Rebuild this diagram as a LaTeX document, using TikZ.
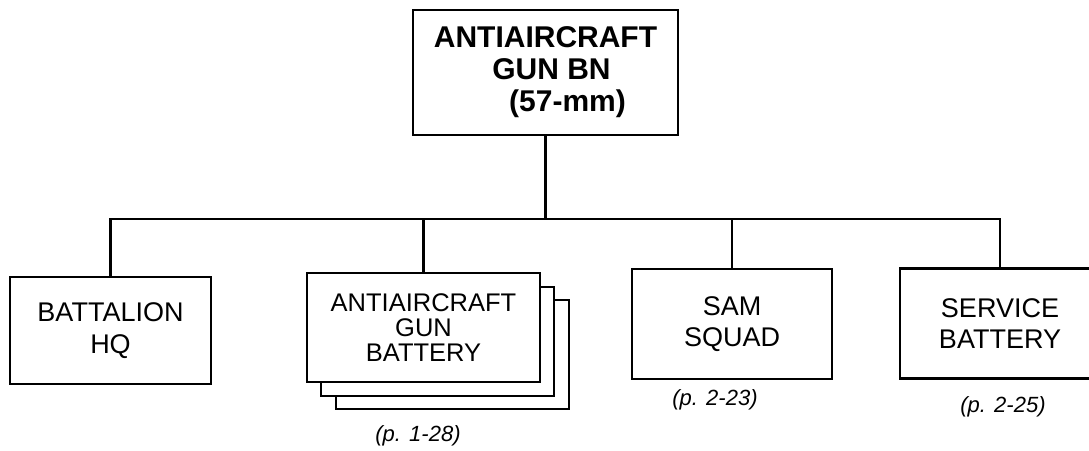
\documentclass[tikz,border=0pt]{standalone}
\usepackage{fontspec}
\setmainfont{Liberation Sans}
\begin{document}
\begin{tikzpicture}[x=1pt,y=-1pt,
  line width=2.7pt,
  box/.style={draw, fill=white, line width=2.7pt, inner sep=0pt, align=center},
  lbl/.style={font=\fontsize{27}{31.5}\selectfont},
  pg/.style={font=\fontsize{22}{26}\itshape\selectfont, inner sep=0pt}]
\clip (0,0) rectangle (1089,450);
\fill[white] (0,0) rectangle (1089,450);
% top box
\node[box, minimum width=265pt, minimum height=125pt,
      font=\fontsize{30}{32}\bfseries\selectfont] (top) at (545.5,72.5)
  {ANTIAIRCRAFT\\\hspace*{12pt}GUN BN\\\hspace*{44pt}(57-mm)};
% stacked battery boxes
\node[box, minimum width=233pt, minimum height=109pt] (agb3) at (452.5,354.5) {};
\node[box, minimum width=233pt, minimum height=109pt] (agb2) at (437.5,341.5) {};
\node[box, minimum width=233pt, minimum height=109pt,
      font=\fontsize{25.5}{25}\selectfont] (agb) at (423.5,327.5)
  {ANTIAIRCRAFT\\GUN\\BATTERY};
% other boxes
\node[box, lbl, minimum width=201pt, minimum height=107pt] (hq) at (110.5,330.5)
  {BATTALION\\HQ};
\node[box, lbl, minimum width=200pt, minimum height=110pt] (sam) at (732,324)
  {SAM\\SQUAD};
\node[box, lbl, minimum width=200pt, minimum height=110pt] (svc) at (1000,323.5)
  {SERVICE\\BATTERY};
% bus
\coordinate (bus) at (545.5,219);
\draw (top.south) -- (bus);
\draw (hq.north) |- (bus) -| (svc.north);
\draw (agb.north) -- (agb.north |- bus);
\draw (sam.north) -- (sam.north |- bus);
% page labels
\node[pg] (p1) at (418,436) {(p. 1-28)};
\node[pg] (p2) at (715,400) {(p. 2-23)};
\node[pg] (p3) at (1003,407) {(p. 2-25)};
\end{tikzpicture}
\end{document}
